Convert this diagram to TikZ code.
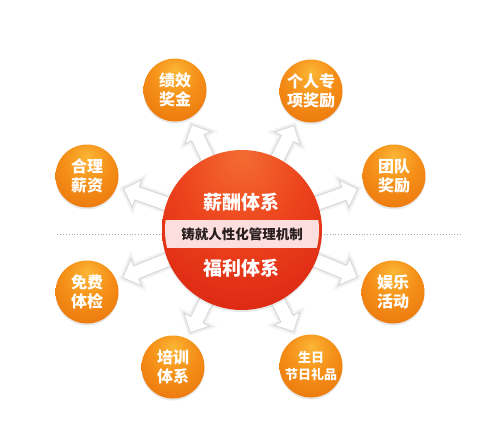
\documentclass[tikz,border=0pt]{standalone}
\usepackage{fontspec}
\setmainfont{Noto Sans CJK SC}
\usetikzlibrary{shapes.arrows,shadows,calc}
\pgfdeclarelayer{bg}
\pgfsetlayers{bg,main}
\definecolor{sl}{RGB}{251,182,54}
\definecolor{sm}{RGB}{245,144,24}
\definecolor{sd}{RGB}{230,104,8}
\definecolor{hl}{RGB}{244,108,50}
\definecolor{hm}{RGB}{236,66,28}
\definecolor{hd}{RGB}{212,24,14}
\definecolor{he}{RGB}{196,14,8}
\definecolor{bandpink}{RGB}{252,222,222}
\definecolor{bandtext}{RGB}{40,30,30}
\pgfdeclareradialshading{satball}{\pgfpoint{0bp}{16bp}}{color(0bp)=(sl); color(18bp)=(sm); color(48bp)=(sd); color(70bp)=(sd)}
\pgfdeclareradialshading{hubball}{\pgfpoint{0bp}{24bp}}{color(0bp)=(hl); color(20bp)=(hm); color(50bp)=(hd); color(76bp)=(he)}
\tikzset{
  sat/.style={circle, minimum size=63pt, inner sep=0pt, shade, shading=satball,
    drop shadow={shadow xshift=0pt, shadow yshift=-2pt, opacity=0.18},
    text=white, font=\bfseries\fontsize{16}{19}\selectfont, align=center},
  satsmall/.style={sat, font=\bfseries\fontsize{13}{17}\selectfont},
  hub/.style={circle, minimum size=160pt, inner sep=0pt, shade, shading=hubball,
    drop shadow={shadow xshift=0pt, shadow yshift=-2pt, opacity=0.18}},
  hubtext/.style={text=white, font=\bfseries\fontsize{19}{22}\selectfont, inner sep=0pt},
  bandlabel/.style={text=bandtext, font=\bfseries\fontsize{13.5}{16}\selectfont, inner sep=0pt},
  arr/.style={single arrow, fill=white, draw=black!16, line width=0.8pt,
    preaction={draw=black!4, line width=6pt},
    preaction={draw=black!8, line width=3pt},
    inner xsep=0pt, inner ysep=6.5pt, minimum height=64pt,
    single arrow head extend=7.5pt, single arrow tip angle=90},
  dotline/.style={draw=black!35, dotted, line width=0.9pt}
}
\begin{document}
\begin{tikzpicture}[x=1pt,y=-1pt]
\useasboundingbox (0,0) rectangle (486,432);
\node[hub] (c) at (242,230) {};
\node[sat] (jx) at (175,90) {绩效\\奖金};
\node[sat] (gr) at (311,91) {个人专\\项奖励};
\node[sat] (td) at (394,176) {团队\\奖励};
\node[sat] (hz) at (87,176) {合理\\薪资};
\node[sat] (mf) at (87,292) {免费\\体检};
\node[sat] (px) at (173,367) {培训\\体系};
\node[sat] (yl) at (393,292) {娱乐\\活动};
\node[satsmall] (sr) at (311,366) {生日\\节日礼品};
\begin{scope}
  \clip (c.center) circle (77);
  \fill[bandpink] (150,220) rectangle (340,248);
\end{scope}
\node[bandlabel] (band) at (242,234) {铸就人性化管理机制};
\node[hubtext] (xc) at (241,202) {薪酬体系};
\node[hubtext] (fl) at (241,268) {福利体系};
\begin{pgfonlayer}{bg}
  \fill[white] (0,0) rectangle (486,432);
  \coordinate (dl) at (57,234);
  \coordinate (dr) at (462,234);
  \draw[dotline] (dl) -- (dr);
  \foreach \t in {jx,gr,td,hz,mf,px,yl,sr}
    \path (c.center) -- ($(\t.center)!38pt!(c.center)$)
      node[arr, pos=1, anchor=tip, sloped, allow upside down, name=ar\t] {};
\end{pgfonlayer}
\end{tikzpicture}
\end{document}
